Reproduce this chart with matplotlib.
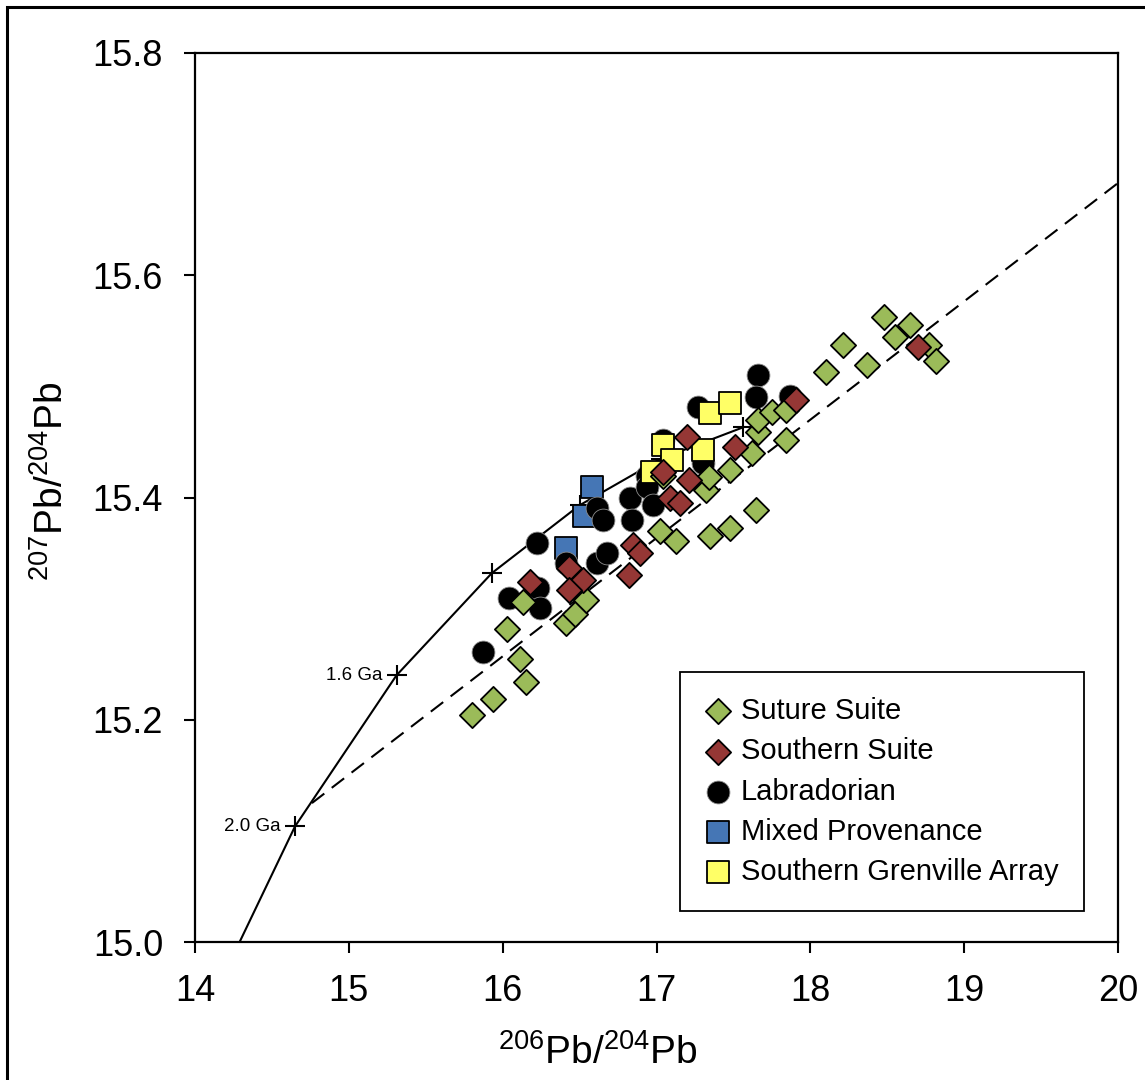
import matplotlib
matplotlib.use("Agg")
import matplotlib.pyplot as plt
from matplotlib.patches import Rectangle

plt.rcParams['font.family'] = ['Liberation Sans', 'DejaVu Sans']
plt.rcParams['mathtext.fontset'] = 'custom'
plt.rcParams['mathtext.rm'] = 'Liberation Sans'
plt.rcParams['mathtext.it'] = 'Liberation Sans'

# ---- sample data: 206Pb/204Pb (x) and 207Pb/204Pb (y) ----
suture_x = [15.80, 15.94, 16.15, 16.11, 16.03, 16.13, 16.41, 16.47, 16.54, 17.02,
            17.13, 17.35, 17.48, 17.65, 17.04, 17.32, 17.34, 17.48, 17.62, 17.66,
            17.66, 17.75, 17.84, 17.84, 18.10, 18.21, 18.37, 18.48, 18.55, 18.65,
            18.77, 18.82]
suture_y = [15.204, 15.219, 15.234, 15.255, 15.282, 15.306, 15.287, 15.295, 15.308, 15.370,
            15.361, 15.365, 15.373, 15.389, 15.419, 15.407, 15.418, 15.425, 15.440, 15.459,
            15.470, 15.477, 15.479, 15.452, 15.513, 15.537, 15.519, 15.562, 15.544, 15.555,
            15.537, 15.523]

southern_x = [16.18, 16.43, 16.52, 16.43, 16.85, 16.89, 16.82, 17.04, 17.20, 17.21,
              17.09, 17.15, 17.51, 17.91, 18.70]
southern_y = [15.324, 15.337, 15.326, 15.317, 15.357, 15.350, 15.330, 15.423, 15.454, 15.416,
              15.400, 15.395, 15.445, 15.488, 15.535]

labrador_x = [15.87, 16.04, 16.23, 16.24, 16.22, 16.41, 16.61, 16.68, 16.61, 16.65,
              16.83, 16.84, 16.94, 16.94, 16.98, 17.04, 17.27, 17.30, 17.66, 17.65,
              17.87]
labrador_y = [15.261, 15.310, 15.319, 15.301, 15.359, 15.341, 15.341, 15.350, 15.391, 15.380,
              15.400, 15.380, 15.419, 15.409, 15.393, 15.452, 15.481, 15.431, 15.510, 15.490,
              15.491]

mixed_x = [16.58, 16.53, 16.41]
mixed_y = [15.409, 15.383, 15.355]

sga_x = [17.35, 17.48, 17.04, 17.10, 17.30, 16.97]
sga_y = [15.476, 15.485, 15.447, 15.434, 15.443, 15.423]

# ---- Pb growth curve with age ticks, and reference line ----
growth_x = [14.29, 14.65, 15.31, 15.93, 16.50, 17.03, 17.56]
growth_y = [15.000, 15.104, 15.240, 15.332, 15.393, 15.435, 15.463]
tick_x = growth_x[1:]
tick_y = growth_y[1:]
age_labels = {"2.0 Ga": (14.65, 15.104), "1.6 Ga": (15.31, 15.240)}

ref_x = [14.76, 20.0]
ref_y = [15.125, 15.683]

labels = ["Suture Suite", "Southern Suite", "Labradorian",
          "Mixed Provenance", "Southern Grenville Array"]

fig = plt.figure(figsize=(11.45, 10.8), dpi=100)
ax = fig.add_axes([195 / 1145, 1 - 942 / 1080, 923 / 1145, 889 / 1080])

# outer frame around the figure
fig.patches.append(Rectangle((7 / 1145, -0.02), 1.05, 1.02 - 7 / 1080,
                             transform=fig.transFigure, fill=False,
                             edgecolor='black', linewidth=2.2, zorder=0))

ax.plot(growth_x, growth_y, color='black', lw=1.5, zorder=2)
ax.plot(tick_x, tick_y, linestyle='none', marker='+', ms=14, mew=1.5,
        color='black', zorder=2)
ax.plot(ref_x, ref_y, color='black', lw=1.5, dashes=(7.5, 4.5), zorder=2)
for txt, (tx, ty) in age_labels.items():
    ax.annotate(txt, (tx, ty), xytext=(-10, 0), textcoords='offset points',
                ha='right', va='center', fontsize=13.5)

mk_lw = 1.3
h_mixed = ax.scatter(mixed_x, mixed_y, marker='s', s=230, c='#4576B5',
                     edgecolors='black', linewidths=mk_lw, zorder=3)
h_lab = ax.scatter(labrador_x, labrador_y, marker='o', s=270, c='black',
                   edgecolors='#8c8c8c', linewidths=0.6, zorder=4)
h_sga = ax.scatter(sga_x, sga_y, marker='s', s=230, c='#FFFF66',
                   edgecolors='black', linewidths=mk_lw, zorder=5)
h_sut = ax.scatter(suture_x, suture_y, marker='D', s=165, c='#9BBB59',
                   edgecolors='black', linewidths=mk_lw, zorder=6)
h_sou = ax.scatter(southern_x, southern_y, marker='D', s=165, c='#953735',
                   edgecolors='black', linewidths=mk_lw, zorder=7)

ax.set_xlim(14, 20)
ax.set_ylim(15.0, 15.8)
ax.set_xticks([14, 15, 16, 17, 18, 19, 20])
ax.set_yticks([15.0, 15.2, 15.4, 15.6, 15.8])
ax.set_yticklabels(["15.0", "15.2", "15.4", "15.6", "15.8"])
ax.tick_params(direction='out', length=8, width=1.5, labelsize=26, pad=15)
for sp in ax.spines.values():
    sp.set_linewidth(1.6)

ax.set_xlabel(r'$^{206}$Pb/$^{204}$Pb', fontsize=28)
ax.set_ylabel(r'$^{207}$Pb/$^{204}$Pb', fontsize=28)
ax.xaxis.set_label_coords(0.4366, -0.104)
ax.yaxis.set_label_coords(-0.134, 0.518)

leg = ax.legend([h_sut, h_sou, h_lab, h_mixed, h_sga], labels,
                loc='upper left', bbox_to_anchor=(0.5255, 0.3037),
                borderaxespad=0, frameon=True, fancybox=False,
                edgecolor='black', framealpha=1, fontsize=21,
                handlelength=0.88, handletextpad=0.35, labelspacing=0.42,
                borderpad=0.86, scatterpoints=1)
leg.get_frame().set_linewidth(1.3)
leg.set_zorder(10)

fig.savefig("out.png", dpi=100)
